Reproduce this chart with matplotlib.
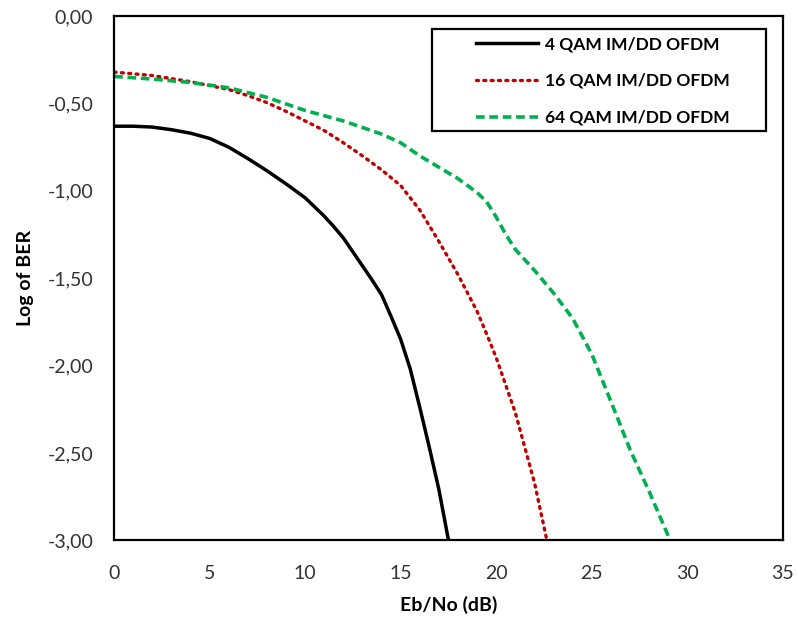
import matplotlib
matplotlib.use("Agg")
import matplotlib.pyplot as plt
from matplotlib.patches import Rectangle
from matplotlib.ticker import FuncFormatter, MultipleLocator

plt.rcParams['font.family'] = ['Lato', 'DejaVu Sans']

# 4 QAM
x_4qam = [0, 1, 2, 3, 4, 5, 6, 7, 8, 9, 10, 11, 11.5, 12, 12.5, 13, 13.5, 14, 14.5,
          15, 15.5, 16, 16.5, 17, 17.5]
y_4qam = [-0.63, -0.63, -0.635, -0.65, -0.67, -0.70, -0.75, -0.815, -0.885, -0.96,
          -1.04, -1.145, -1.205, -1.27, -1.35, -1.43, -1.51, -1.595, -1.72,
          -1.85, -2.02, -2.24, -2.47, -2.71, -3.0]

# 16 QAM
x_16qam = [0, 2, 4, 6, 7, 8, 9, 10, 11, 12, 13, 14, 15, 16, 17, 18, 19, 19.5, 20,
           21, 22, 22.65]
y_16qam = [-0.32, -0.34, -0.375, -0.42, -0.455, -0.495, -0.545, -0.60, -0.655, -0.725,
           -0.80, -0.88, -0.97, -1.11, -1.29, -1.48, -1.69, -1.82, -1.955,
           -2.27, -2.67, -3.0]

# 64 QAM
x_64qam = [0, 2, 4, 6, 8, 10, 12, 14, 15, 16, 17, 18, 19, 19.5, 20, 20.5, 21, 22, 23,
           24, 25, 26, 27, 28, 29.1]
y_64qam = [-0.345, -0.36, -0.38, -0.41, -0.465, -0.54, -0.60, -0.675, -0.725, -0.80,
           -0.865, -0.93, -1.01, -1.063, -1.15, -1.25, -1.335, -1.455, -1.585, -1.73,
           -1.935, -2.205, -2.48, -2.72, -3.0]

labels = ["4 QAM IM/DD OFDM", "16 QAM IM/DD OFDM", "64 QAM IM/DD OFDM"]

fig = plt.figure(figsize=(7.98, 6.21), dpi=100)
ax = fig.add_axes([0.143, 0.130, 0.838, 0.844])

ax.plot(x_4qam, y_4qam, color="black", lw=2.5, label=labels[0])
ax.plot(x_16qam, y_16qam, color="#c00000", lw=2.4, ls=(0, (0.6, 1.6)),
        dash_capstyle="round", label=labels[1])
ax.plot(x_64qam, y_64qam, color="#00b050", lw=2.6, ls=(0, (2.4, 1.3)), label=labels[2])

ax.set_xlim(0, 35)
ax.set_ylim(-3, 0)
ax.xaxis.set_major_locator(MultipleLocator(5))
ax.yaxis.set_major_locator(MultipleLocator(0.5))
ax.yaxis.set_major_formatter(FuncFormatter(lambda v, p: f"{v:.2f}".replace(".", ",")))
ax.tick_params(length=0, labelsize=14, colors="#333333")
ax.tick_params(axis="x", pad=18)
ax.tick_params(axis="y", pad=15)

for spine in ax.spines.values():
    spine.set_linewidth(1.6)
    spine.set_color("black")

ax.set_xlabel("Eb/No (dB)", fontsize=14, fontweight="bold", labelpad=10)
ax.set_ylabel("Log of BER", fontsize=14, fontweight="bold", labelpad=10)

# legend box drawn by hand, entries placed inside it
ax.add_patch(Rectangle((0.4753, 0.7805), 0.4993, 0.1947, transform=ax.transAxes,
                       facecolor="white", edgecolor="black", lw=1.6, zorder=4))
leg = ax.legend(loc="upper left", bbox_to_anchor=(0.541, 0.962),
                prop={"weight": "bold", "size": 12.5}, frameon=False,
                handlelength=3.56, handletextpad=0.4, borderpad=0, labelspacing=1.2,
                borderaxespad=0)
leg.set_zorder(5)

fig.savefig("out.png", dpi=100)
